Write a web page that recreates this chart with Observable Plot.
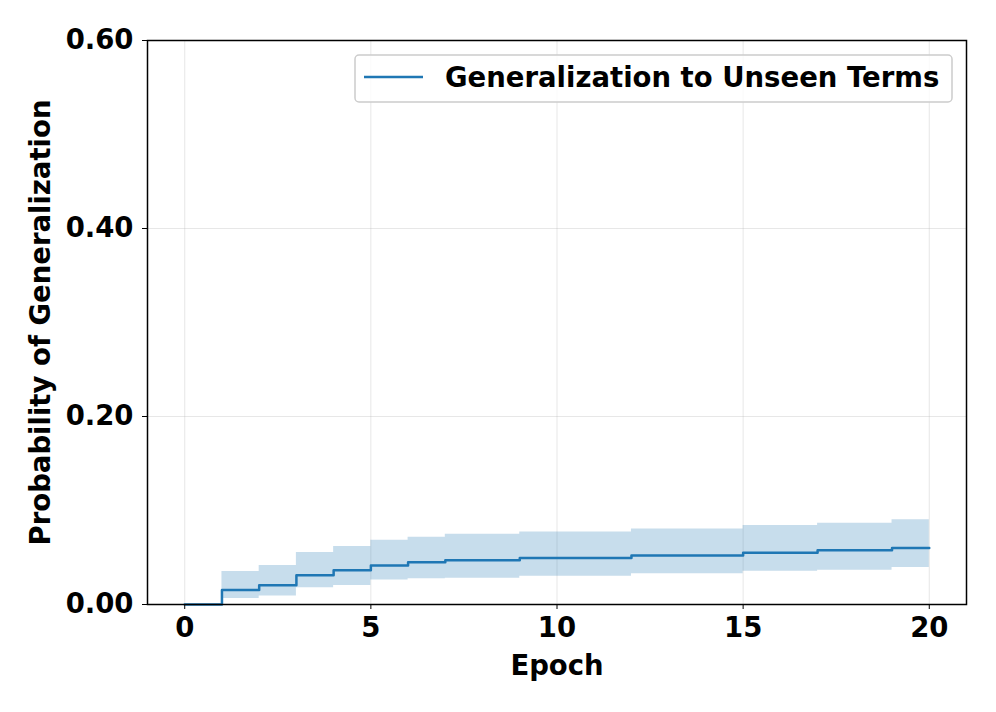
<!DOCTYPE html>
<html>
<head>
<meta charset="utf-8">
<script src="https://cdn.jsdelivr.net/npm/d3@7"></script>
<script src="https://cdn.jsdelivr.net/npm/@observablehq/plot@0.6"></script>
<style>
  html, body { margin: 0; padding: 0; background: white; }
  #chart { width: 996px; height: 712px; }
</style>
</head>
<body>
<div id="chart"></div>
<script>
const epochs = [0, 1, 2, 3, 4, 5, 6, 7, 8, 9, 10, 11, 12, 13, 14, 15, 16, 17, 18, 19, 20];
const meanVals = [0, 0.0155, 0.0205, 0.031, 0.0365, 0.0415, 0.045, 0.047, 0.047, 0.0495, 0.0495, 0.0495, 0.0522, 0.0522, 0.0522, 0.055, 0.055, 0.0578, 0.0578, 0.0602, 0.0602];
const lowerVals = [0, 0.0065, 0.009, 0.0177, 0.0202, 0.026, 0.0275, 0.028, 0.028, 0.030, 0.030, 0.030, 0.0326, 0.0326, 0.0326, 0.0354, 0.0354, 0.0365, 0.0365, 0.0393, 0.0393];
const upperVals = [0, 0.035, 0.0415, 0.0553, 0.0617, 0.0684, 0.0716, 0.0748, 0.0748, 0.0772, 0.0772, 0.0772, 0.0802, 0.0802, 0.0802, 0.084, 0.084, 0.0865, 0.0865, 0.0901, 0.0901];
const xTicks = [0, 5, 10, 15, 20];
const yTicks = [0, 0.2, 0.4, 0.6];
const seriesName = "Generalization to Unseen Terms";
const xLabel = "Epoch";
const yLabel = "Probability of Generalization";

const data = epochs.map((e, i) => ({epoch: e, mean: meanVals[i], lo: lowerVals[i], hi: upperVals[i]}));
const blue = "#1f77b4";
const fs = 27.5;

const chart = Plot.plot({
  width: 996,
  height: 712,
  marginLeft: 147,
  marginRight: 30,
  marginTop: 40,
  marginBottom: 108,
  style: {fontFamily: "DejaVu Sans", fontWeight: "bold", fontSize: fs + "px", color: "black", background: "white", overflow: "visible"},
  x: {domain: [-1, 21]},
  y: {domain: [0, 0.6]},
  marks: [
    Plot.gridX(xTicks, {stroke: "#b0b0b0", strokeOpacity: 0.3, strokeWidth: 1}),
    Plot.gridY(yTicks, {stroke: "#b0b0b0", strokeOpacity: 0.3, strokeWidth: 1}),
    Plot.areaY(data, {x: "epoch", y1: "lo", y2: "hi", curve: "step-after", fill: blue, fillOpacity: 0.25}),
    Plot.lineY(data, {x: "epoch", y: "mean", curve: "step-after", stroke: blue, strokeWidth: 2.5}),
    Plot.axisX(xTicks, {tickSize: 5, tickPadding: 8, fontSize: fs, fontWeight: "bold", label: xLabel, labelAnchor: "center", labelArrow: "none", labelOffset: 70, stroke: "black"}),
    Plot.axisY(yTicks, {tickSize: 5, tickPadding: 9, fontSize: fs, fontWeight: "bold", tickFormat: d => d.toFixed(2), label: yLabel, labelAnchor: "center", labelArrow: "none", labelOffset: 117, stroke: "black"}),
    Plot.frame({stroke: "black", strokeWidth: 1.5})
  ]
});

document.getElementById("chart").appendChild(chart);

// Legend (matplotlib-style, upper right)
const svg = d3.select(chart);
const lg = svg.append("g").attr("class", "legend").attr("text-anchor", "start");
lg.append("rect")
  .attr("x", 355).attr("y", 55).attr("width", 597).attr("height", 47)
  .attr("rx", 4).attr("ry", 4)
  .attr("fill", "white").attr("fill-opacity", 0.8)
  .attr("stroke", "#cccccc").attr("stroke-width", 1.5);
lg.append("line")
  .attr("x1", 364).attr("x2", 423).attr("y1", 77).attr("y2", 77)
  .attr("stroke", blue).attr("stroke-width", 2.5);
lg.append("text")
  .attr("x", 445).attr("y", 87)
  .attr("text-anchor", "start")
  .attr("font-family", "DejaVu Sans").attr("font-weight", "bold").attr("font-size", fs)
  .attr("fill", "black")
  .text(seriesName);
</script>
</body>
</html>
